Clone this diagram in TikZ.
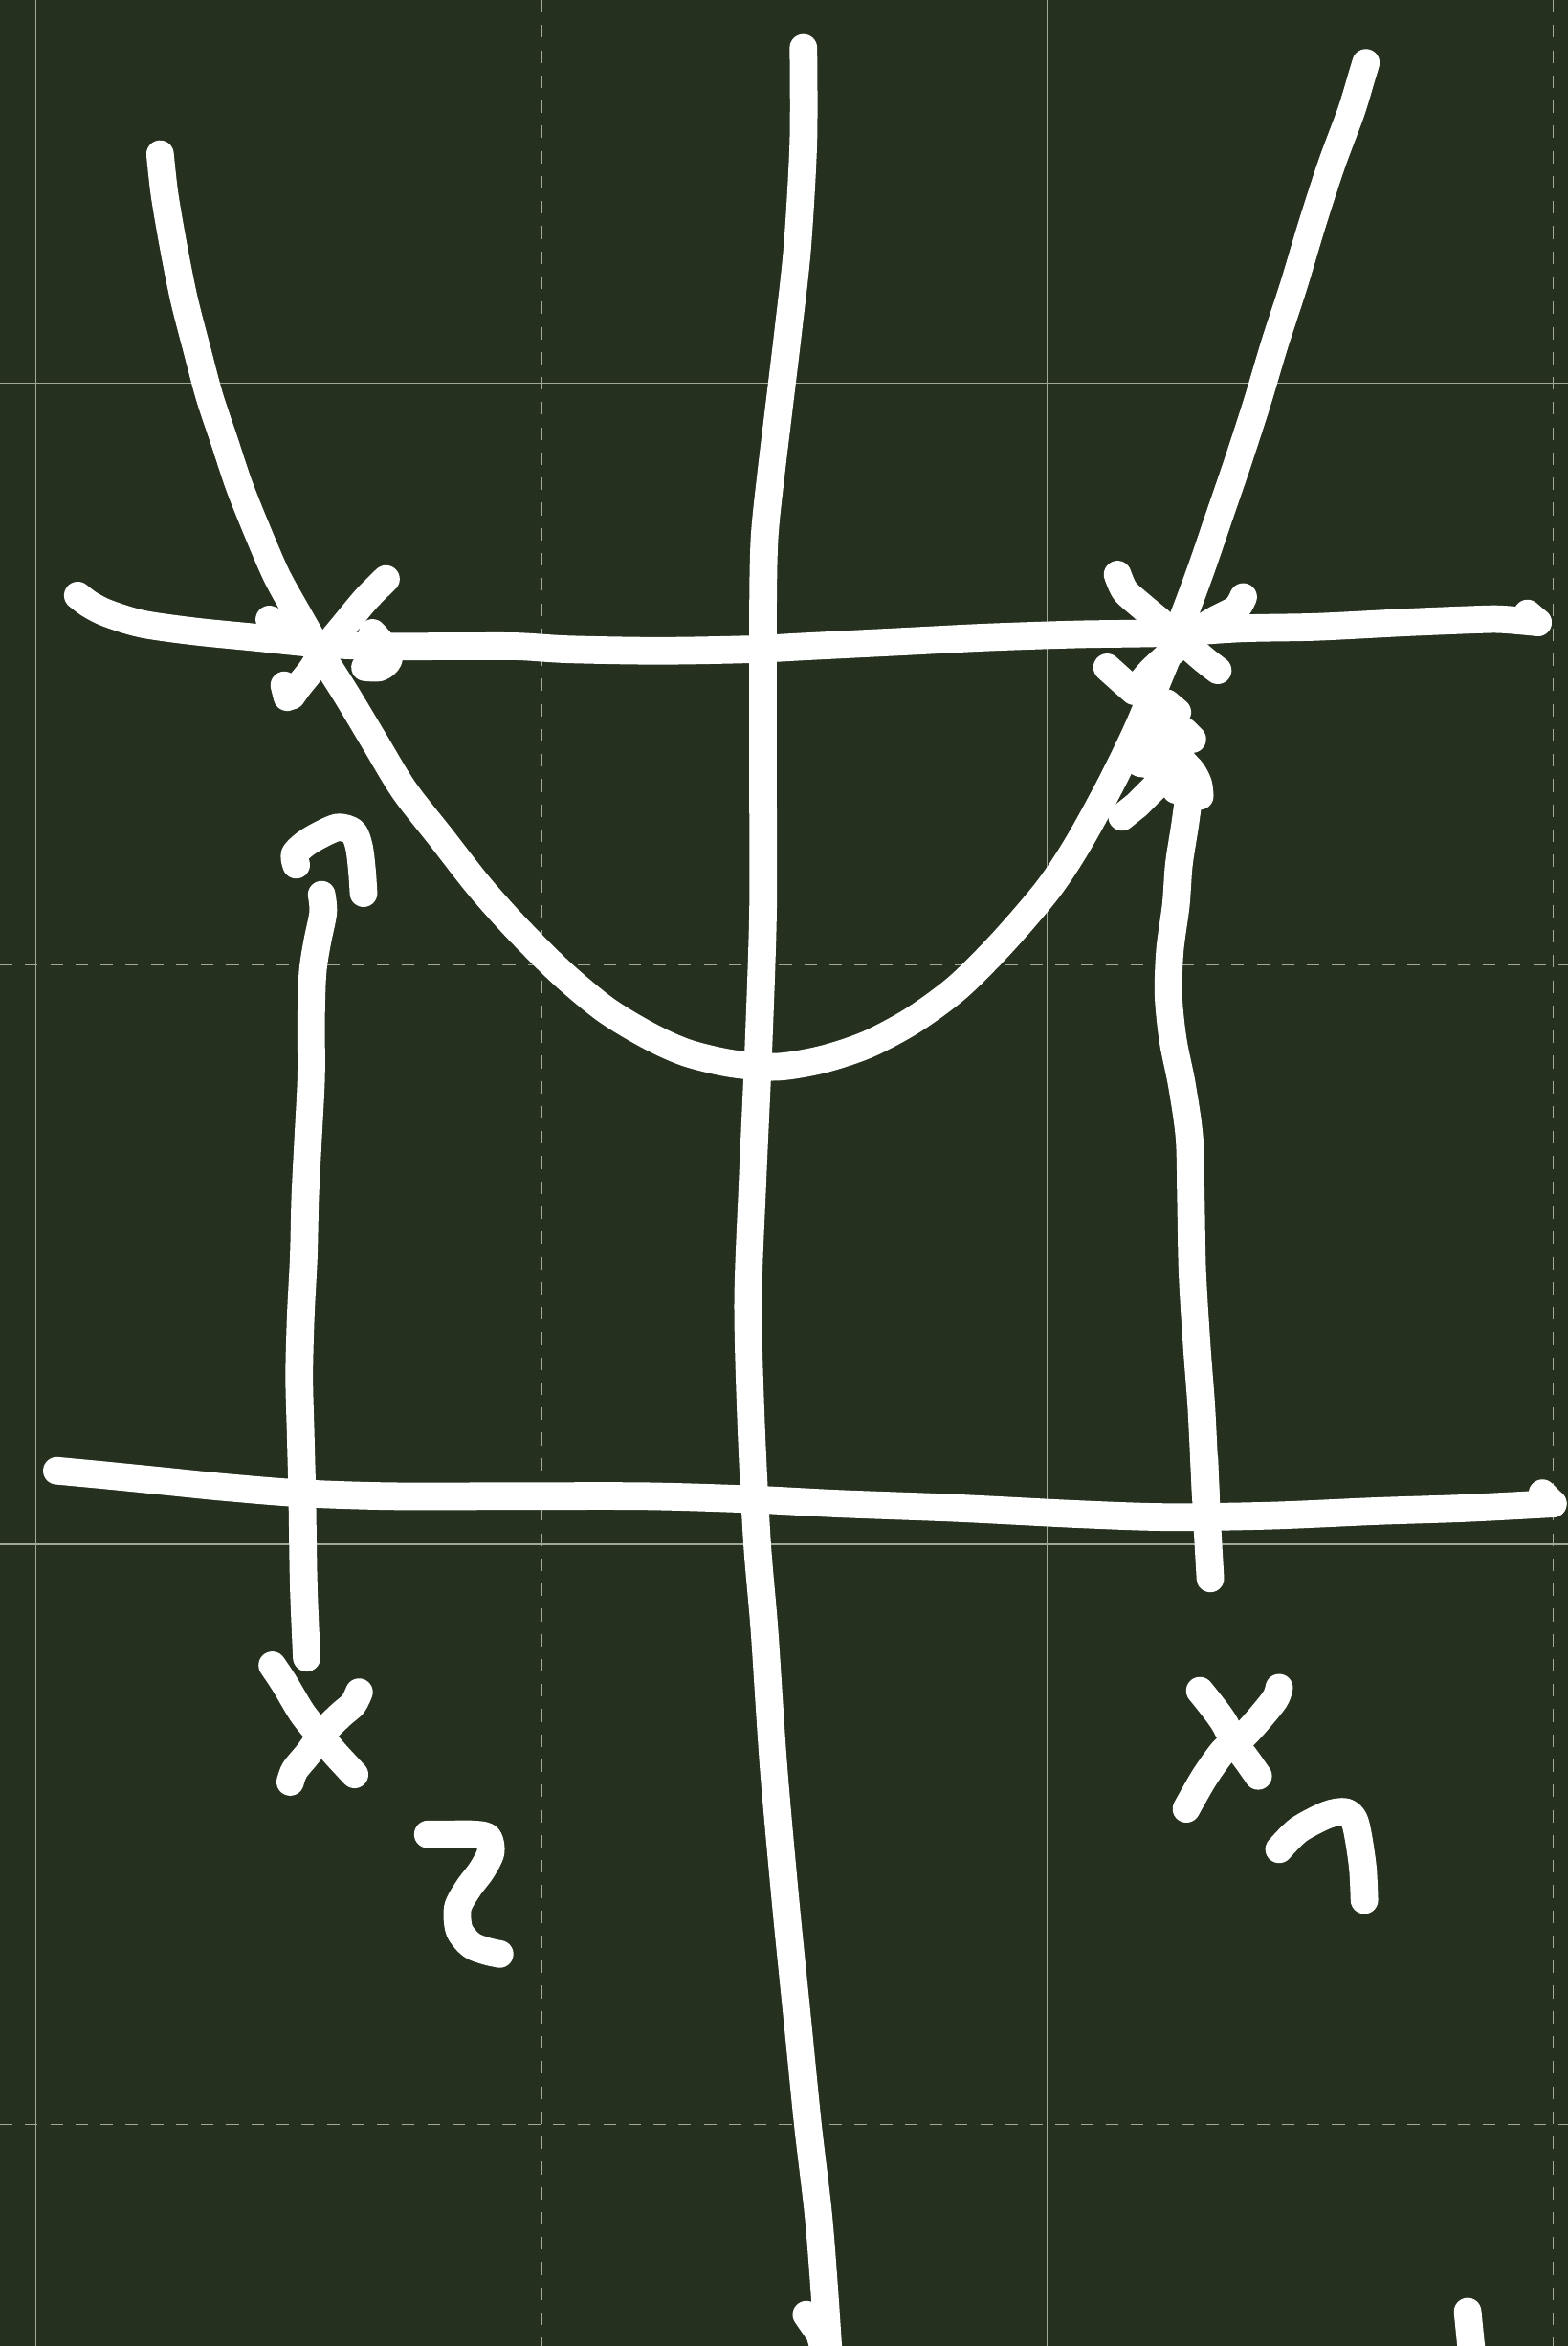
\documentclass[tikz,border=0pt]{standalone}
\definecolor{board}{RGB}{37,48,30}
\definecolor{gridc}{RGB}{160,168,155}
\tikzset{
  chalk/.style={draw=white, line width=9.2pt, line cap=round, line join=round},
  gridsolid/.style={draw=gridc, line width=0.45pt},
  griddash/.style={draw=gridc, line width=0.45pt, dash pattern=on 4.2pt off 4.2pt},
}
\begin{document}
\begin{tikzpicture}[x=0.5pt,y=-0.5pt]
\useasboundingbox (0,0) rectangle (1048,1568);
\fill[board] (0,0) rectangle (1048,1568);
\clip (0,0) rectangle (1048,1568);
% grid
\foreach \gx in {24,700} \draw[gridsolid] (\gx,0) -- (\gx,1568);
\foreach \gx in {362,1038} \draw[griddash] (\gx,0) -- (\gx,1568);
\foreach \gy in {256,1032} \draw[gridsolid] (0,\gy) -- (1048,\gy);
\foreach \gy in {645,1420} \draw[griddash] (0,\gy) -- (1048,\gy);

% central axis
\draw[chalk] plot[smooth, tension=0.5] coordinates {(537,32) (537,95) (533,165) (527,220) (521,270) (515,320) (511,360) (510,410) (510,520) (510,610) (507,700) (503,790) (500,870) (502,950) (506,1030) (511,1090) (517,1180) (525,1270) (533,1350) (540,1420) (547,1480) (551,1530) (554,1575)};
\draw[chalk] (539,1547) -- (548,1560) -- (552,1575);

% parabola
\draw[chalk] plot[smooth, tension=0.5] coordinates {(107,103) (110,130) (116,165) (123,200) (132,235) (140,265) (150,295) (160,325) (172,355) (185,385) (200,412) (215,438) (232,465) (250,495) (270,528) (295,560) (320,592) (345,620) (375,650) (405,675) (435,693) (460,704) (490,711) (520,713) (550,708) (580,698) (610,682) (640,660) (670,630) (700,595) (720,565) (742,525) (760,488) (775,452) (790,415) (803,380) (815,345) (827,310) (840,270) (852,230) (865,190) (877,150) (890,110) (903,75) (910,52) (913,42)};

% upper horizontal line
\draw[chalk] plot[smooth, tension=0.5] coordinates {(52,398) (60,404) (72,410) (95,417) (130,422) (170,426) (210,430) (250,432) (300,432) (345,432) (380,434) (440,435) (500,434) (540,432) (600,429) (660,426) (720,424) (780,423) (830,420) (880,419) (940,416) (990,414) (1005,414) (1028,416)};
\draw[chalk] (1021,410) -- (1028,416);

% lower horizontal line
\draw[chalk] plot[smooth, tension=0.5] coordinates {(38,983) (70,986) (110,990) (150,994) (200,998) (260,1000) (340,1000) (430,1000) (500,1002) (560,1005) (640,1008) (720,1012) (780,1014) (850,1013) (920,1010) (980,1008) (1038,1005)};
\draw[chalk] (1031,998) -- (1038,1005);

% left vertical with hook
\draw[chalk] plot[smooth, tension=0.5] coordinates {(215,598) (216,610) (212,630) (209,650) (208,680) (208,720) (206,760) (204,800) (203,840) (201,880) (200,920) (201,960) (202,1000) (203,1060) (205,1108)};
\draw[chalk] plot[smooth, tension=0.5] coordinates {(198,578) (197,571) (204,564) (214,558) (226,553) (236,556) (240,566) (242,582) (243,597)};

% right vertical
\draw[chalk] plot[smooth, tension=0.5] coordinates {(795,530) (792,552) (788,578) (786,605) (782,635) (781,665) (784,695) (790,725) (795,760) (796,800) (797,850) (800,900) (803,940) (805,980) (807,1020) (809,1055)};
\draw[chalk] (805,975) -- (806,1000);

% left cross marks
\draw[chalk] plot[smooth, tension=0.5] coordinates {(258,387) (245,400) (230,418) (217,434) (208,448) (200,458) (195,465)};
\draw[chalk] (190,458) -- (192,466);
\draw[chalk] (180,414) -- (187,417);
\draw[chalk] plot[smooth, tension=0.5] coordinates {(249,423) (255,430) (260,440) (254,446) (244,446)};

% right cross marks
\draw[chalk] plot[smooth, tension=0.5] coordinates {(747,384) (752,395) (763,405) (775,415) (790,428) (805,441) (814,448)};
\draw[chalk] plot[smooth, tension=0.5] coordinates {(831,399) (826,407) (811,415) (796,425) (782,437) (770,448) (763,456)};
\draw[chalk] (740,446) -- (750,455) -- (758,462);
\draw[chalk] (780,470) -- (787,476);
\draw[chalk] (792,489) -- (797,494);
\draw[chalk] plot[smooth, tension=0.5] coordinates {(772,480) (782,495) (790,508) (797,516) (801,524) (802,532)};
\draw[chalk] (750,546) -- (760,538) -- (772,526);
\draw[chalk] (768,492) -- (778,502) -- (788,518);
\draw[chalk] (762,510) -- (775,512) -- (786,528);

% label x2
\draw[chalk] plot[smooth, tension=0.5] coordinates {(182,1113) (190,1125) (202,1145) (214,1160) (224,1172) (237,1186)};
\draw[chalk] plot[smooth, tension=0.5] coordinates {(240,1131) (236,1139) (228,1146) (217,1157) (206,1172) (197,1183) (194,1191)};
\draw[chalk] plot[smooth, tension=0.5] coordinates {(286,1226) (300,1226) (316,1226) (326,1228) (328,1238) (322,1250) (313,1262) (306,1275) (307,1290) (315,1300) (325,1304) (334,1306)};

% label x1
\draw[chalk] plot[smooth, tension=0.5] coordinates {(802,1130) (810,1140) (818,1151) (826,1166) (834,1177) (841,1187)};
\draw[chalk] plot[smooth, tension=0.5] coordinates {(855,1128) (852,1136) (838,1153) (828,1163) (818,1170) (805,1188) (793,1209)};
\draw[chalk] plot[smooth, tension=0.5] coordinates {(855,1236) (868,1223) (887,1213) (899,1211) (905,1216) (908,1228) (911,1249) (912,1270)};

% bottom right stub
\draw[chalk] (981,1545) -- (984,1575);
\end{tikzpicture}
\end{document}
